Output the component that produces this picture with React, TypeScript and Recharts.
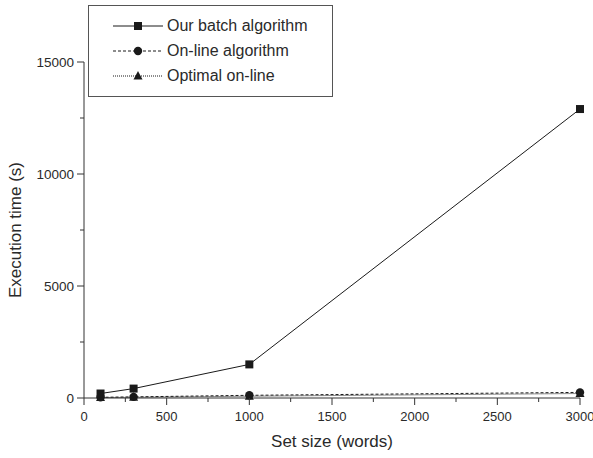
import React from 'react';
import { LineChart, Line, XAxis, YAxis } from 'recharts';

const setSizes = [100, 300, 1000, 3000];
const batchTimes = [200, 420, 1500, 12900];
const onlineTimes = [30, 50, 120, 250];
const optimalTimes = [20, 30, 80, 200];
const seriesNames = ['Our batch algorithm', 'On-line algorithm', 'Optimal on-line'];
const xTicks = [0, 250, 500, 750, 1000, 1250, 1500, 1750, 2000, 2250, 2500, 2750, 3000];
const yTicks = [0, 2500, 5000, 7500, 10000, 12500, 15000];

const data = setSizes.map((s, i) => ({
  size: s,
  batch: batchTimes[i],
  online: onlineTimes[i],
  optimal: optimalTimes[i],
}));

const FONT = '"Liberation Sans", Arial, Helvetica, sans-serif';
const INK = '#1a1a1a';
const TEXT = '#2a2a2a';

const XTick = (props: any) => {
  const { x, y, payload } = props;
  const v = payload.value;
  const major = v % 500 === 0;
  return (
    <g>
      <line x1={x} x2={x} y1={y} y2={y + (major ? 7 : 4)} stroke="#333" strokeWidth={1} />
      {major && (
        <text x={x} y={y + 23} textAnchor="middle" fontSize={13} fill={TEXT} fontFamily={FONT}>
          {v}
        </text>
      )}
    </g>
  );
};

const YTick = (props: any) => {
  const { x, y, payload } = props;
  const v = payload.value;
  const major = v % 5000 === 0;
  return (
    <g>
      <line x1={x - (major ? 7 : 4)} x2={x} y1={y} y2={y} stroke="#333" strokeWidth={1} />
      {major && (
        <text x={x - 10} y={y + 4.5} textAnchor="end" fontSize={13.5} fill={TEXT} fontFamily={FONT}>
          {v}
        </text>
      )}
    </g>
  );
};

const SquareDot = (props: any) => {
  const { cx, cy, index } = props;
  return <rect key={`s${index}`} x={cx - 4} y={cy - 4} width={8} height={8} fill={INK} />;
};
const CircleDot = (props: any) => {
  const { cx, cy, index } = props;
  return <circle key={`c${index}`} cx={cx} cy={cy} r={4.2} fill={INK} />;
};
const TriDot = (props: any) => {
  const { cx, cy, index } = props;
  return (
    <polygon
      key={`t${index}`}
      points={`${cx},${cy - 5} ${cx - 4.5},${cy + 3.5} ${cx + 4.5},${cy + 3.5}`}
      fill={INK}
    />
  );
};

const legendItems = [
  { name: seriesNames[0], dash: undefined as string | undefined, marker: 'square' },
  { name: seriesNames[1], dash: '3 2', marker: 'circle' },
  { name: seriesNames[2], dash: '1 1', marker: 'triangle' },
];

const LegendBox = () => (
  <div
    style={{
      position: 'absolute',
      left: 88,
      top: 5,
      width: 245,
      height: 92,
      border: '1px solid #555',
      background: '#fff',
      boxSizing: 'border-box',
    }}
  >
    {legendItems.map((it, i) => (
      <div
        key={it.name}
        style={{
          position: 'absolute',
          left: 24,
          top: 8 + i * 25,
          height: 24,
          display: 'flex',
          alignItems: 'center',
          fontFamily: FONT,
          fontSize: 16,
          color: TEXT,
          whiteSpace: 'nowrap',
        }}
      >
        <svg width={52} height={14} style={{ marginRight: 2 }}>
          <line x1={0} x2={50} y1={7} y2={7} stroke={INK} strokeWidth={1} strokeDasharray={it.dash} />
          {it.marker === 'square' && <rect x={21} y={3} width={8} height={8} fill={INK} />}
          {it.marker === 'circle' && <circle cx={25} cy={7} r={4.2} fill={INK} />}
          {it.marker === 'triangle' && <polygon points="25,2 20.5,10.5 29.5,10.5" fill={INK} />}
        </svg>
        <span>{it.name}</span>
      </div>
    ))}
  </div>
);

export default function App() {
  return (
    <div style={{ position: 'absolute', left: 0, top: 0, width: 593, height: 458, background: '#fff' }}>
      <LineChart width={593} height={458} data={data} margin={{ top: 62, right: 13, bottom: 0, left: 0 }}>
        <XAxis
          dataKey="size"
          type="number"
          domain={[0, 3000]}
          ticks={xTicks}
          interval={0}
          tickSize={0}
          tickMargin={0}
          tick={<XTick />}
          tickLine={false}
          axisLine={{ stroke: '#333', strokeWidth: 1 }}
          height={60}
          label={{
            content: (p: any) => {
              const vb = p.viewBox;
              return (
                <text
                  x={vb.x + vb.width / 2}
                  y={vb.y + vb.height - 11}
                  textAnchor="middle"
                  fontSize={17}
                  fill={TEXT}
                  fontFamily={FONT}
                >
                  Set size (words)
                </text>
              );
            },
          }}
        />
        <YAxis
          type="number"
          domain={[0, 15000]}
          ticks={yTicks}
          interval={0}
          tickSize={0}
          tickMargin={0}
          tick={<YTick />}
          tickLine={false}
          axisLine={{ stroke: '#333', strokeWidth: 1 }}
          width={84}
          label={{
            content: (p: any) => {
              const vb = p.viewBox;
              const cx = vb.x + 21;
              const cy = vb.y + vb.height / 2;
              return (
                <text
                  x={cx}
                  y={cy}
                  transform={`rotate(-90 ${cx} ${cy})`}
                  textAnchor="middle"
                  fontSize={17}
                  fill={TEXT}
                  fontFamily={FONT}
                >
                  Execution time (s)
                </text>
              );
            },
          }}
        />
        <Line
          dataKey="optimal"
          name={seriesNames[2]}
          stroke={INK}
          strokeWidth={1}
          strokeDasharray="1 1"
          dot={TriDot}
          activeDot={false}
          isAnimationActive={false}
        />
        <Line
          dataKey="online"
          name={seriesNames[1]}
          stroke={INK}
          strokeWidth={1}
          strokeDasharray="3 2"
          dot={CircleDot}
          activeDot={false}
          isAnimationActive={false}
        />
        <Line
          dataKey="batch"
          name={seriesNames[0]}
          stroke={INK}
          strokeWidth={1}
          dot={SquareDot}
          activeDot={false}
          isAnimationActive={false}
        />
      </LineChart>
      <LegendBox />
    </div>
  );
}
